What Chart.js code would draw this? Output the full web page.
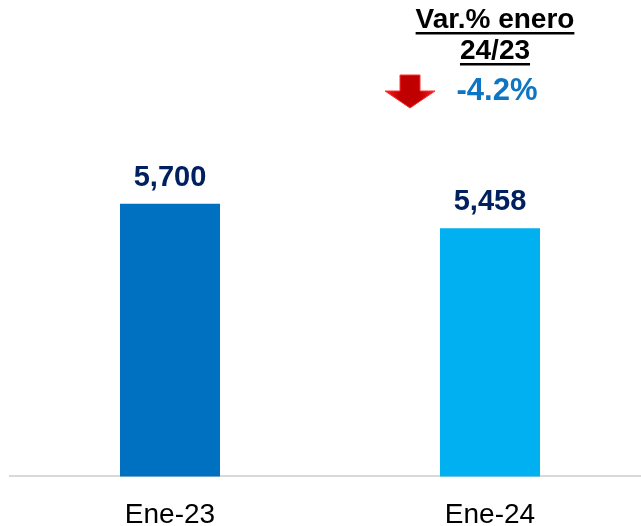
<!DOCTYPE html>
<html>
<head>
<meta charset="utf-8">
<script src="https://cdn.jsdelivr.net/npm/chart.js@4"></script>
<style>
html,body{margin:0;padding:0;background:#fff;overflow:hidden;width:641px;height:526px;}
#wrap{position:absolute;left:0;top:0;width:660px;height:526px;}
</style>
</head>
<body>
<div id="wrap"><canvas id="c"></canvas></div>
<script>
const categories = ["Ene-23", "Ene-24"];
const values = [5700, 5458];
const valueLabels = ["5,700", "5,458"];
const barColors = ["#0070C0", "#00B0F0"];
const noteTitle = ["Var.% enero", "24/23"];
const noteValue = "-4.2%";

const FONT = "'Liberation Sans', Arial, sans-serif";

const labelsPlugin = {
  id: 'labelsPlugin',
  afterDatasetsDraw(chart) {
    const ctx = chart.ctx;
    const meta = chart.getDatasetMeta(0);
    ctx.save();
    ctx.font = "bold 29px " + FONT;
    ctx.fillStyle = "#002060";
    ctx.textAlign = "center";
    ctx.textBaseline = "alphabetic";
    meta.data.forEach((bar, i) => {
      ctx.fillText(valueLabels[i], bar.x, bar.y - 18);
    });
    ctx.restore();

    // annotation near second category
    const xs = chart.scales.x;
    const cx = xs.getPixelForValue(1) + 5;
    ctx.save();
    ctx.fillStyle = "#000";
    ctx.textAlign = "center";
    ctx.font = "bold 28px " + FONT;
    const baselines = [28, 59];
    noteTitle.forEach((t, i) => {
      ctx.fillText(t, cx, baselines[i]);
      const w = ctx.measureText(t).width;
      ctx.fillRect(cx - w / 2, baselines[i] + 4, w, 2.5);
    });
    ctx.fillStyle = "#0E74C4";
    ctx.font = "bold 31px " + FONT;
    ctx.fillText(noteValue, cx + 2, 100);

    // red down arrow
    const ax = xs.getPixelForValue(1) - 80;
    ctx.beginPath();
    ctx.moveTo(ax - 10, 75);
    ctx.lineTo(ax + 10, 75);
    ctx.lineTo(ax + 10, 91);
    ctx.lineTo(ax + 25, 91);
    ctx.lineTo(ax, 108);
    ctx.lineTo(ax - 25, 91);
    ctx.lineTo(ax - 10, 91);
    ctx.closePath();
    const g = ctx.createLinearGradient(ax - 25, 0, ax + 25, 0);
    g.addColorStop(0, "#FF2020");
    g.addColorStop(0.3, "#C00000");
    g.addColorStop(0.7, "#C00000");
    g.addColorStop(1, "#FF2020");
    ctx.fillStyle = g;
    ctx.fill();
    ctx.strokeStyle = "#FF3030";
    ctx.lineWidth = 1;
    ctx.stroke();
    ctx.restore();
  }
};

new Chart(document.getElementById('c'), {
  type: 'bar',
  data: {
    labels: categories,
    datasets: [{
      data: values,
      backgroundColor: barColors,
      borderWidth: 0,
      categoryPercentage: 1,
      barPercentage: 0.3125
    }]
  },
  options: {
    responsive: true,
    maintainAspectRatio: false,
    animation: false,
    layout: { padding: { left: 10, right: 10, top: 2, bottom: -28 } },
    plugins: { legend: { display: false }, tooltip: { enabled: false } },
    scales: {
      y: {
        display: false,
        min: 3000,
        max: 7700
      },
      x: {
        grid: { display: false, drawTicks: false },
        border: { display: true, color: "#D9D9D9", width: 2 },
        ticks: {
          color: "#000",
          padding: 22,
          font: { family: FONT, size: 28, lineHeight: 1.2 }
        }
      }
    }
  },
  plugins: [labelsPlugin]
});
</script>
</body>
</html>
